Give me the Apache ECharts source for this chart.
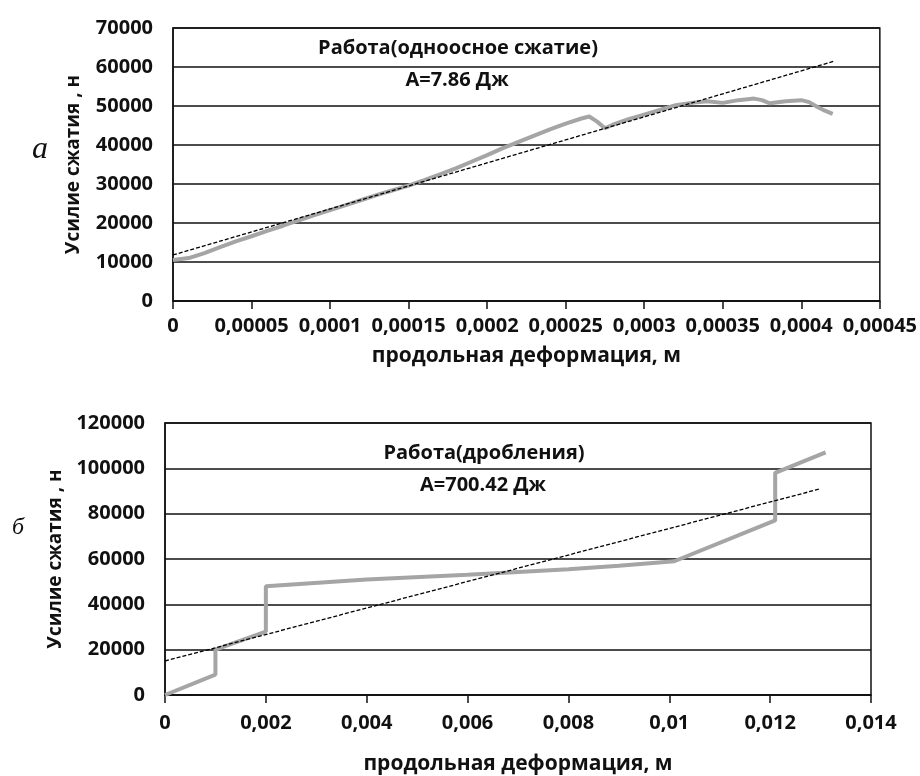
<!DOCTYPE html>
<html>
<head>
<meta charset="utf-8">
<script src="https://cdn.jsdelivr.net/npm/echarts@6/dist/echarts.min.js"></script>
<style>
html, body { margin: 0; padding: 0; background: #fff; }
#main { width: 920px; height: 776px; }
</style>
</head>
<body>
<div id="main"></div>
<script>
// а) одноосное сжатие: продольная деформация (м) / усилие (Н)
var deformA = [0, 0.00001, 0.00002, 0.00003, 0.00004, 0.00005, 0.00006, 0.00007, 0.00008, 0.00009,
  0.0001, 0.00011, 0.00012, 0.00013, 0.00014, 0.00015, 0.00016, 0.00017, 0.00018, 0.00019,
  0.0002, 0.00021, 0.00022, 0.00023, 0.00024, 0.00025, 0.00026, 0.000265, 0.00027, 0.000275,
  0.00028, 0.00029, 0.0003, 0.00031, 0.00032, 0.00033, 0.00034, 0.00035, 0.00036, 0.00037,
  0.000375, 0.00038, 0.00039, 0.0004, 0.000405, 0.00041, 0.000415, 0.00042];
var forceA = [10500, 11000, 12300, 13800, 15300, 16600, 18000, 19300, 20700, 22000,
  23300, 24600, 25900, 27200, 28400, 29600, 31000, 32500, 34000, 35700,
  37400, 39200, 40800, 42400, 44000, 45500, 46800, 47300, 46000, 44300,
  45200, 46600, 47800, 49000, 50200, 50800, 51200, 50800, 51500, 51900,
  51500, 50700, 51200, 51500, 51000, 49800, 48800, 48000];
var trendDeformA = [0, 0.000421];
var trendForceA = [11800, 61500];

// б) дробление
var deformB = [0, 0.001, 0.001, 0.002, 0.002, 0.004, 0.006, 0.008, 0.009, 0.0101, 0.0121, 0.0121, 0.0131];
var forceB = [0, 9000, 20000, 28000, 48000, 51000, 53000, 55500, 57000, 59000, 77000, 98000, 107000];
var trendDeformB = [0, 0.013];
var trendForceB = [15000, 91000];

var labelA = ['Работа(одноосное сжатие)', 'A=7.86 Дж'];
var labelB = ['Работа(дробления)', 'A=700.42 Дж'];
var yName = 'Усилие сжатия , н';
var xName = 'продольная деформация, м';

function pairs(xs, ys) {
  return xs.map(function (x, i) { return [x, ys[i]]; });
}

var ink = '#111';
var font = 'Open Sans';

function xAxisOpt(idx, max, step, margin, gap) {
  return {
    type: 'value', gridIndex: idx, min: 0, max: max, interval: step,
    name: xName, nameLocation: 'middle', nameGap: gap,
    nameTextStyle: { color: ink, fontSize: 21, fontWeight: 'bold', fontFamily: font },
    axisLine: { lineStyle: { color: ink, width: 1.5 } },
    axisTick: { show: true, length: 8, lineStyle: { color: ink, width: 1.5 } },
    splitLine: { show: false },
    axisLabel: {
      color: ink, fontSize: 20, fontWeight: 'bold', fontFamily: font, margin: margin,
      formatter: function (v) { return String(v).replace('.', ','); }
    }
  };
}

function yAxisOpt(idx, max, step, gap) {
  return {
    type: 'value', gridIndex: idx, min: 0, max: max, interval: step,
    name: yName, nameLocation: 'middle', nameGap: gap,
    nameTextStyle: { color: ink, fontSize: 19, fontWeight: 'bold', fontFamily: font },
    axisLine: { show: true, lineStyle: { color: ink, width: 1.5 } },
    axisTick: { show: false },
    splitLine: { show: true, lineStyle: { color: ink, width: 1.5 } },
    axisLabel: {
      color: ink, fontSize: 20, fontWeight: 'bold', fontFamily: font, margin: 20,
      formatter: function (v) { return String(v); }
    }
  };
}

function dataLine(idx, xs, ys) {
  return {
    type: 'line', xAxisIndex: idx, yAxisIndex: idx, data: pairs(xs, ys),
    symbol: 'none', z: 3,
    lineStyle: { color: '#a5a5a5', width: 4 }
  };
}

function trendLine(idx, xs, ys) {
  return {
    type: 'line', xAxisIndex: idx, yAxisIndex: idx, data: pairs(xs, ys),
    symbol: 'none', z: 4,
    lineStyle: { color: '#000', width: 1.3, type: [4, 2] }
  };
}

function note(x, y, text, fontStr) {
  return {
    type: 'text', x: x, y: y, z: 10,
    style: { text: text, fill: ink, font: fontStr, align: 'center', verticalAlign: 'middle' }
  };
}

var chart = echarts.init(document.getElementById('main'));
chart.setOption({
  backgroundColor: '#fff',
  animation: false,
  grid: [
    { left: 173, right: 38, top: 28, height: 273, show: true, borderColor: ink, borderWidth: 1.5, backgroundColor: 'transparent' },
    { left: 165, right: 49, top: 423, height: 273, show: true, borderColor: ink, borderWidth: 1.5, backgroundColor: 'transparent' }
  ],
  xAxis: [
    xAxisOpt(0, 0.00045, 0.00005, 15, 45),
    xAxisOpt(1, 0.014, 0.002, 18, 59)
  ],
  yAxis: [
    yAxisOpt(0, 70000, 10000, 90),
    yAxisOpt(1, 120000, 20000, 98)
  ],
  series: [
    dataLine(0, deformA, forceA),
    trendLine(0, trendDeformA, trendForceA),
    dataLine(1, deformB, forceB),
    trendLine(1, trendDeformB, trendForceB)
  ],
  graphic: [
    note(458, 48, labelA[0], 'bold 20px "Open Sans"'),
    note(457, 80, labelA[1], 'bold 20px "Open Sans"'),
    note(484, 453, labelB[0], 'bold 20px "Open Sans"'),
    note(483, 485, labelB[1], 'bold 20px "Open Sans"'),
    note(40, 150, 'а', 'italic 32px "Liberation Serif"'),
    note(18, 528, 'б', 'italic 24px "Liberation Serif"')
  ]
});
</script>
</body>
</html>
